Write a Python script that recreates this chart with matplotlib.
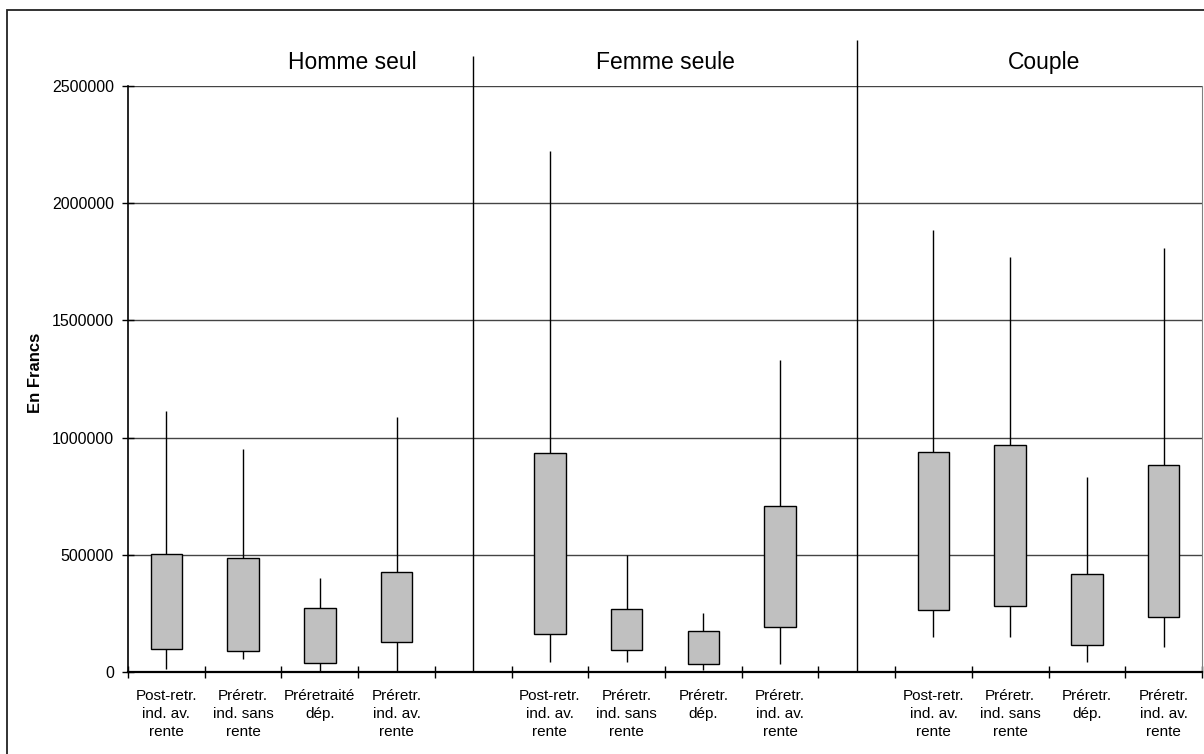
import matplotlib
matplotlib.use("Agg")
import matplotlib.pyplot as plt
from matplotlib.patches import Rectangle
from matplotlib.ticker import StrMethodFormatter

plt.rcParams['font.family'] = ['Liberation Sans', 'DejaVu Sans']

groups = ["Homme seul", "Femme seule", "Couple"]
tick_labels = [
    ["Post-retr.\nind. av.\nrente", "Préretr.\nind. sans\nrente", "Préretraité\ndép.", "Préretr.\nind. av.\nrente"],
    ["Post-retr.\nind. av.\nrente", "Préretr.\nind. sans\nrente", "Préretr.\ndép.", "Préretr.\nind. av.\nrente"],
    ["Post-retr.\nind. av.\nrente", "Préretr.\nind. sans\nrente", "Préretr.\ndép.", "Préretr.\nind. av.\nrente"],
]
# min / Q1 / Q3 / max per category, one row per group
lows = [
    [11000, 54000, 5000, 5000],
    [41000, 41000, 9000, 35000],
    [148000, 148000, 41000, 105000],
]
q1s = [
    [97000, 91000, 40000, 128000],
    [162000, 95000, 35000, 194000],
    [265000, 283000, 115000, 233000],
]
q3s = [
    [502000, 487000, 272000, 428000],
    [933000, 268000, 176000, 707000],
    [939000, 968000, 419000, 881000],
]
highs = [
    [1113000, 952000, 401000, 1089000],
    [2223000, 500000, 252000, 1329000],
    [1887000, 1771000, 832000, 1808000],
]

fig = plt.figure(figsize=(12.04, 7.54), dpi=100)
ax = fig.add_axes([128 / 1204, 1 - 672 / 754, 1074 / 1204, (672 - 86) / 754])

centers, labels = [], []
for g in range(3):
    for i in range(4):
        x = g * 5 + i + 0.5
        centers.append(x)
        labels.append(tick_labels[g][i])
        ax.vlines(x, lows[g][i], highs[g][i], color='black', lw=1, zorder=2)
        ax.bar(x, q3s[g][i] - q1s[g][i], bottom=q1s[g][i], width=0.41,
               color='#c0c0c0', edgecolor='black', linewidth=1, zorder=3)

ax.set_xlim(0, 14)
ax.set_ylim(0, 2500000)
ax.set_yticks(range(0, 2500001, 500000))
ax.yaxis.set_major_formatter(StrMethodFormatter("{x:.0f}"))
ax.yaxis.grid(True, color='#444444', lw=1, zorder=0)
ax.set_axisbelow(True)

ax.set_xticks(range(0, 15))
ax.set_xticklabels([])
ax.set_xticks(centers, minor=True)
ax.set_xticklabels(labels, minor=True, fontsize=11, linespacing=1.4)
ax.tick_params(axis='x', which='major', direction='inout', length=8, width=1)
ax.tick_params(axis='x', which='minor', length=0, pad=12)
ax.tick_params(axis='y', direction='inout', length=8, width=1, labelsize=11.5, pad=6)

ax.spines['top'].set_visible(False)
ax.spines['right'].set_color('#808080')
ax.spines['left'].set_linewidth(1.2)
ax.spines['bottom'].set_linewidth(1.6)

ax.set_ylabel("En Francs", fontsize=12, fontweight='bold')
ax.yaxis.set_label_coords(-0.079, 0.51)

# group separators and titles
ax.vlines(4.5, 0, 2630000, color='black', lw=1, clip_on=False)
ax.vlines(9.5, 0, 2695000, color='black', lw=1, clip_on=False)
for g, tx in zip(groups, [2.92, 7.0, 11.94]):
    ax.text(tx, 2600000, g, ha='center', va='center', fontsize=16.5, clip_on=False)

fig.patches.append(Rectangle((7 / 1204, -0.02), 1.02, 1 - 10 / 754 + 0.02,
                             transform=fig.transFigure, fill=False,
                             edgecolor='#222222', lw=1.3))

fig.savefig("out.png", dpi=100)
